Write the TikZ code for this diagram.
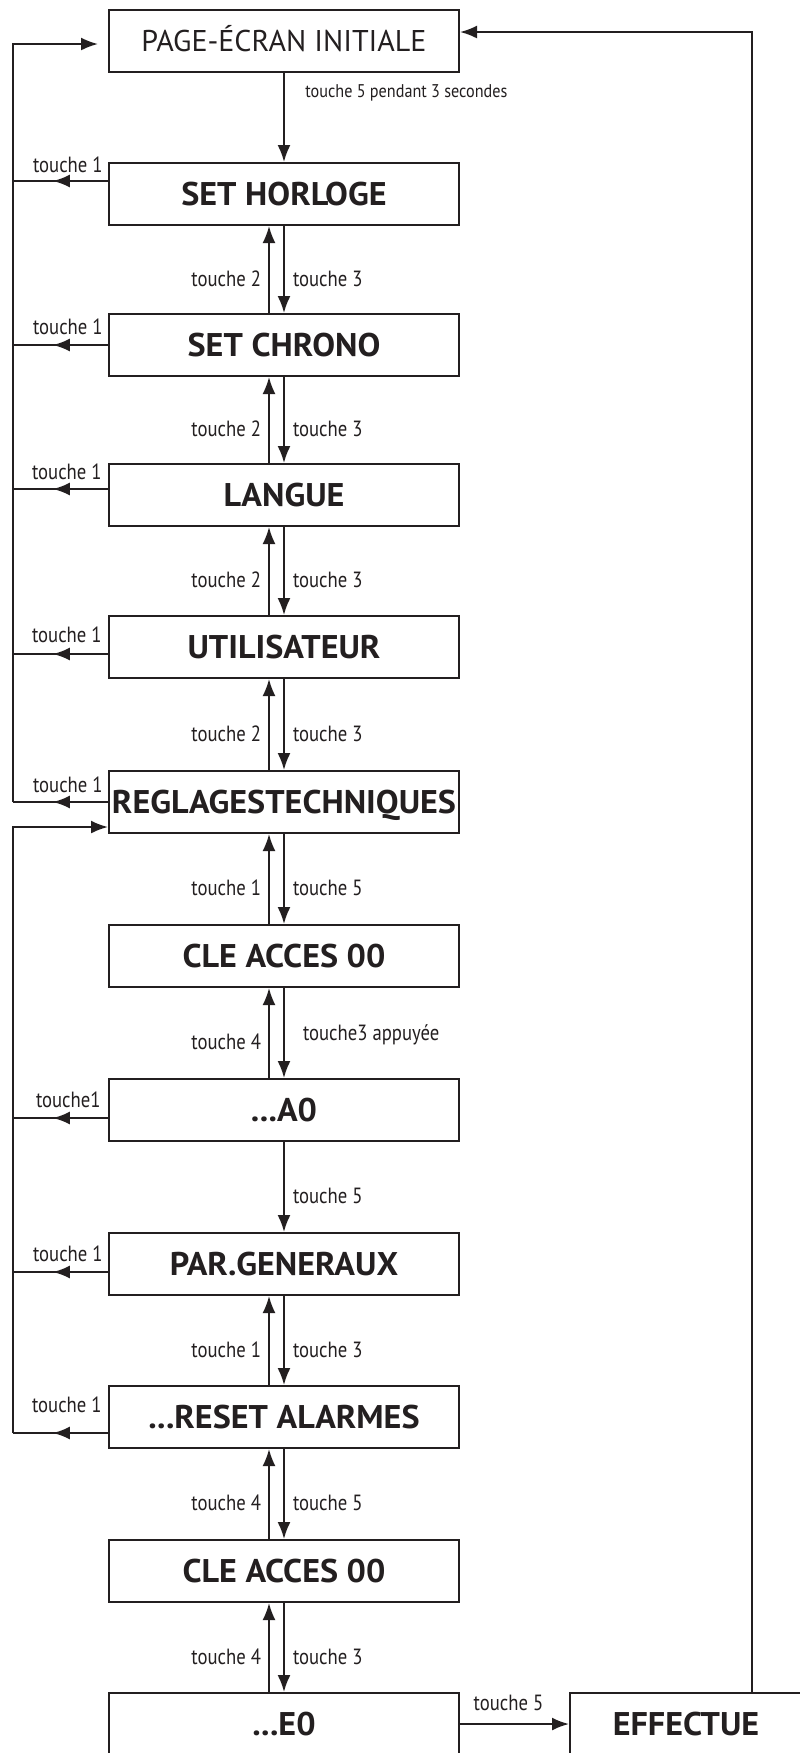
\documentclass[tikz,border=0pt]{standalone}
\usepackage{fontspec}
\setmainfont{PT Sans}
\newfontfamily\lblfont[FakeStretch=0.85]{PT Sans}
\newfontfamily\boxfont[FakeStretch=1.04]{PT Sans}
\newfontfamily\smallfont[FakeStretch=0.88]{PT Sans}
\usetikzlibrary{arrows.meta,decorations.markings}
\definecolor{ink}{HTML}{231F20}
\begin{document}
\begin{tikzpicture}[x=0.5pt,y=-0.5pt,
  box/.style={draw=ink, line width=1pt, minimum width=175pt, minimum height=31pt,
    inner sep=0pt, font=\boxfont\fontsize{16.4}{16.4}\selectfont\bfseries, text=ink,
    text height=11.4pt, text depth=0pt},
  pagebox/.style={box, font=\fontsize{15}{15}\selectfont, text height=10.5pt},
  arr/.style={draw=ink, line width=1pt, -{Latex[length=8.5pt,width=6.5pt]}},
  back/.style={draw=ink, color=ink, line width=1pt, postaction={decorate},
    decoration={markings, mark=at position 0.58 with {\arrow{Latex[length=8.5pt,width=6.5pt]}}}},
  lbl/.style={font=\lblfont\fontsize{11}{11}\selectfont, text=ink, inner sep=0pt, text depth=0pt},
  small/.style={font=\smallfont\fontsize{9.2}{9.2}\selectfont, text=ink, inner sep=0pt, text depth=0pt},
]
\fill[white] (0,0) rectangle (799,1753);
\useasboundingbox (0,0) rectangle (799,1753);

% boxes
\node[pagebox] (page) at (284,41) {PAGE-ÉCRAN INITIALE};
\node[box] (hor) at (284,194) {SET HORLOGE};
\node[box] (chr) at (284,345) {SET CHRONO};
\node[box] (lan) at (284,495) {LANGUE};
\node[box] (uti) at (284,647) {UTILISATEUR};
\node[box] (reg) at (284,802) {REGLAGESTECHNIQUES};
\node[box] (cle) at (284,956) {CLE ACCES 00};
\node[box] (a0) at (284,1110) {...A0};
\node[box] (par) at (284,1264) {PAR.GENERAUX};
\node[box] (res) at (284,1417) {...RESET ALARMES};
\node[box] (cle2) at (284,1571) {CLE ACCES 00};
\node[box] (e0) at (284,1724) {...E0};
\node[box, minimum width=116pt] (eff) at (686,1724) {EFFECTUE};

% top arrow
\draw[arr] (page.south) -- (hor.north);
\node[small, anchor=west] (lt) at (305,91) {touche 5 pendant 3 secondes};

% vertical pairs
\foreach \A/\B/\L/\R in {hor/chr/touche 2/touche 3, chr/lan/touche 2/touche 3,
    lan/uti/touche 2/touche 3, uti/reg/touche 2/touche 3, reg/cle/touche 1/touche 5,
    par/res/touche 1/touche 3, res/cle2/touche 4/touche 5, cle2/e0/touche 4/touche 3} {
  \draw[arr] ([xshift=-7.5pt]\B.north) -- node[lbl, anchor=east, xshift=-3.5pt, yshift=-4.5pt]{\L} ([xshift=-7.5pt]\A.south);
  \draw[arr] (\A.south) -- node[lbl, anchor=west, xshift=4pt, yshift=-4.5pt]{\R} (\B.north);
}
\draw[arr] ([xshift=-7.5pt]a0.north) -- node[lbl, anchor=east, xshift=-3.5pt, yshift=-4.5pt]{touche 4} ([xshift=-7.5pt]cle.south);
\draw[arr] (cle.south) -- node[lbl, anchor=west, xshift=9pt]{touche3 appuyée} (a0.north);
\draw[arr] (a0.south) -- node[lbl, anchor=west, xshift=4pt, yshift=-4.5pt]{touche 5} (par.north);

% left return arrows
\coordinate (L) at (13,0);
\foreach \n/\s in {hor/6.5pt, chr/0pt, lan/3pt, uti/-3.5pt, reg/0pt, a0/-4pt, par/-4pt, res/-8pt} {
  \coordinate (\n-o) at ([yshift=\s]\n.west);
  \draw[back] (\n-o) -- (\n-o -| L);
}
\coordinate (pin) at ([xshift=-5pt,yshift=-1.5pt]page.west);
\draw[arr] (reg-o -| L) -- (pin -| L) -- (pin);
\coordinate (regin) at ([yshift=-12.5pt]reg.west);
\draw[arr] (res-o -| L) -- (regin -| L) -- (regin);

% touche 1 labels
\node[lbl, anchor=east] (t1) at (103,165) {touche 1};
\node[lbl, anchor=east] (t2) at (103,327) {touche 1};
\node[lbl, anchor=east] (t3) at (102,472) {touche 1};
\node[lbl, anchor=east] (t4) at (102,635) {touche 1};
\node[lbl, anchor=east] (t5) at (103,785) {touche 1};
\node[lbl, anchor=east] (t6) at (101,1100) {touche1};
\node[lbl, anchor=east] (t7) at (103,1254) {touche 1};
\node[lbl, anchor=east] (t8) at (102,1405) {touche 1};

% bottom
\draw[arr] (e0.east) -- node[lbl, above=6.5pt, xshift=-3pt]{touche 5} (eff.west);
\coordinate (R) at (752,32);
\draw[arr] (eff.north -| R) -- (R) -- (R -| page.east);
\end{tikzpicture}
\end{document}
